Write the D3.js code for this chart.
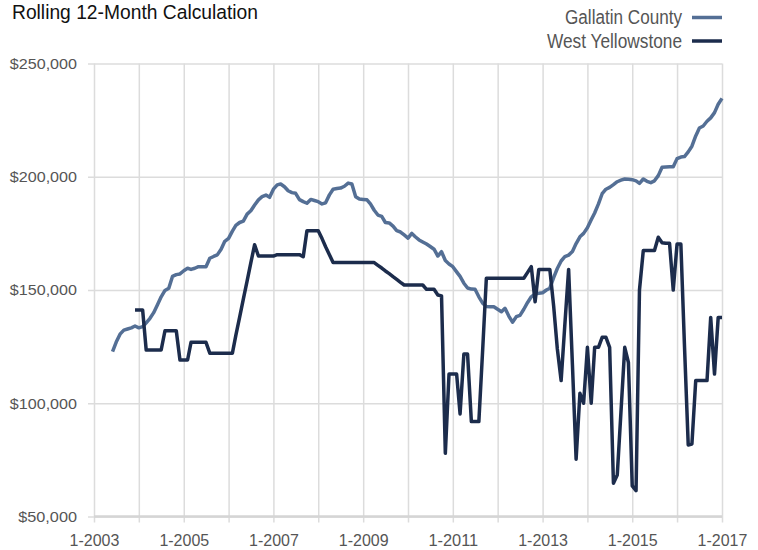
<!DOCTYPE html>
<html>
<head>
<meta charset="utf-8">
<script src="https://cdn.jsdelivr.net/npm/d3@7"></script>
<style>
  body { margin: 0; background: #fff; }
  text { font-family: "Liberation Sans", Arial, sans-serif; }
</style>
</head>
<body>
<div id="chart"></div>
<script>
// series start months (monthly values, in thousands of dollars)
var gallatinStart = new Date(2003, 5, 1);
var westStart = new Date(2003, 11, 1);

var gallatin = [
  122.8, 127, 130.5, 132.3, 132.8, 133.3, 134.1, 133.3, 133.8, 135.5, 137.5, 140, 143.5, 147, 149.8, 150.8,
  156, 156.8, 157.1, 158.5, 159.6, 159.1, 159.6, 160.3, 160.3, 160.3, 164, 164.8, 165.5, 168, 171.5, 172.8,
  176, 178.5, 179.8, 180.4, 183.5, 185, 187.5, 189.8, 191.2, 191.9, 190.9, 194.5, 196.4, 196.8, 195.6, 193.8,
  193, 192.7, 189.9, 189, 188.3, 190, 189.5, 189, 188, 188.5, 192, 194.5, 194.8, 195, 195.8, 197.2,
  196.8, 191.2, 190.2, 190, 189.8, 188, 185.2, 183.1, 182.5, 179.8, 179.6, 178.2, 176.2, 175.6, 174.3, 172.9,
  175, 173.5, 172.1, 171.2, 170.3, 169.2, 168, 165, 166.9, 163, 161.5, 160.3, 158, 156, 153, 150.9,
  150.4, 150.3, 147, 144.2, 142.7, 142.6, 142.6, 141.5, 140.4, 141.9, 138.5, 135.8, 138.2, 138.8, 141.5, 144.5,
  147, 148.3, 148.6, 148.8, 150, 150.8, 155.5, 159.5, 162.8, 164.7, 165.4, 167, 170.5, 173.5, 175, 177.5,
  181, 184, 188, 192.5, 194.5, 195.3, 196.5, 197.8, 198.5, 199, 198.9, 198.7, 198.2, 197.1, 199, 198,
  197.4, 198.2, 200.5, 204.2, 204.3, 204.4, 204.4, 208, 208.7, 208.9, 211, 213.5, 218, 221.5, 222.4, 224.5,
  226, 228.3, 232, 234.6
];

var westYellowstone = [
  141.2, 141.2, 141.2, 123.5, 123.5, 123.5, 123.5, 123.5, 132, 132, 132, 132, 119.1, 119.1, 119.1, 126.9,
  126.9, 126.9, 126.9, 126.9, 122.1, 122.1, 122.1, 122.1, 122.1, 122.1, 122.1, 130, 138, 146, 154, 162,
  170, 165, 165, 165, 165, 165, 165.6, 165.6, 165.6, 165.6, 165.6, 165.6, 165.6, 164.7, 176.2, 176.2, 176.2, 176.2,
  172.7, 169.1, 165.6, 162.1, 162.1, 162.1, 162.1, 162.1, 162.1, 162.1, 162.1, 162.1, 162.1, 162.1, 162.1, 160.9,
  159.7, 158.4, 157.2, 155.9, 154.7, 153.4, 152.2, 152.2, 152.2, 152.2, 152.2, 152.2, 150.3, 150.3, 150.3, 147.8,
  147.4, 77.9, 112.9, 112.9, 112.9, 95.3, 121.7, 121.7, 91.9, 91.9, 91.9, 123.5, 155.2, 155.2, 155.2, 155.2,
  155.2, 155.2, 155.2, 155.2, 155.2, 155.2, 155.2, 157.8, 160.3, 144.8, 159.1, 159.1, 159.1, 159.1, 143, 124,
  110, 134.5, 159.1, 117, 75.3, 104.4, 100, 124.7, 100, 124.7, 124.7, 129.1, 129.1, 124.7, 64.7, 68.3,
  96, 124.7, 118, 63.5, 61.4, 150, 167.4, 167.4, 167.4, 167.4, 173.3, 170.9, 170.6, 170.6, 150, 170.3,
  170.3, 126, 81.6, 82, 110, 110, 110, 110, 137.9, 112.9, 137.9, 137.9
];

var seriesNames = ["Gallatin County", "West Yellowstone"];
var seriesColors = ["#546f95", "#1c2c4c"];

var yTicks = [50000, 100000, 150000, 200000, 250000];
var xLabelYears = [2003, 2005, 2007, 2009, 2011, 2013, 2015, 2017];

var svgWidth = 758;
var svgHeight = 550;

var margin = { top: 63.5, right: 36, bottom: 33.5, left: 94 };
var width = svgWidth - margin.left - margin.right;
var height = svgHeight - margin.top - margin.bottom;

var svg = d3.select("#chart")
  .append("svg")
  .attr("width", svgWidth)
  .attr("height", svgHeight);

var chartGroup = svg.append("g")
  .attr("transform", `translate(${margin.left}, ${margin.top})`);

// turn the monthly arrays into dated points
function toPoints(start, values) {
  return values.map((v, i) => ({ date: d3.timeMonth.offset(start, i), value: v * 1000 }));
}
var lines = [toPoints(gallatinStart, gallatin), toPoints(westStart, westYellowstone)];

var xScale = d3.scaleTime()
  .domain([new Date(2003, 0, 1), new Date(2017, 0, 1)])
  .range([0, width]);

var yScale = d3.scaleLinear()
  .domain([50000, 250000])
  .range([height, 0]);

// the reference uses a condensed face, so squeeze text to its measured width
function squeeze(sel, perChar) {
  sel.attr("textLength", function() { return this.textContent.length * perChar; })
    .attr("lengthAdjust", "spacingAndGlyphs");
}

// vertical gridlines + ticks every year
var yearTicks = d3.timeYear.range(new Date(2003, 0, 1), new Date(2017, 0, 2));
var bottomAxis = d3.axisBottom(xScale)
  .tickValues(yearTicks)
  .tickFormat(d => xLabelYears.indexOf(d.getFullYear()) >= 0 ? "1-" + d.getFullYear() : "");

var xAxisG = chartGroup.append("g")
  .attr("transform", `translate(0, ${height})`)
  .call(bottomAxis);
xAxisG.select(".domain").remove();
xAxisG.selectAll("line")
  .attr("stroke", "#dcdcdc")
  .attr("stroke-width", 1.5)
  .attr("y2", -height)
  .attr("y1", 6);
xAxisG.selectAll("text")
  .attr("y", 18)
  .attr("fill", "#555")
  .style("font-size", "16px")
  .call(squeeze, 8.3);

// horizontal gridlines
var leftAxis = d3.axisLeft(yScale)
  .tickValues(yTicks)
  .tickFormat(d => "$" + d3.format(",")(d));

var yAxisG = chartGroup.append("g")
  .call(leftAxis);
yAxisG.select(".domain").remove();
yAxisG.selectAll("line")
  .attr("x1", -6)
  .attr("x2", width)
  .attr("stroke", "#dcdcdc")
  .attr("stroke-width", 1.5);
yAxisG.selectAll("text")
  .attr("x", -17)
  .attr("fill", "#555")
  .style("font-size", "15px")
  .call(squeeze, 8.4);

// bottom axis line a bit heavier
chartGroup.append("line")
  .attr("x1", 0)
  .attr("x2", width)
  .attr("y1", height)
  .attr("y2", height)
  .attr("stroke", "#d5d5d5")
  .attr("stroke-width", 2.5);

// draw the two lines
var lineGen = d3.line()
  .x(d => xScale(d.date))
  .y(d => yScale(d.value));

chartGroup.selectAll(".series")
  .data(lines)
  .enter()
  .append("path")
  .attr("class", "series")
  .attr("d", lineGen)
  .attr("fill", "none")
  .attr("stroke", (d, i) => seriesColors[i])
  .attr("stroke-width", 3.5)
  .attr("stroke-linejoin", "round");

// title
svg.append("text")
  .attr("x", 12)
  .attr("y", 18.5)
  .attr("fill", "#111")
  .style("font-size", "20.5px")
  .attr("textLength", 246)
  .attr("lengthAdjust", "spacingAndGlyphs")
  .text("Rolling 12-Month Calculation");

// legend, top right
var legendWidths = [117, 135];
var legend = svg.selectAll(".legend")
  .data(seriesNames)
  .enter()
  .append("g")
  .attr("class", "legend")
  .attr("transform", (d, i) => `translate(0, ${i * 23.5})`);

legend.append("text")
  .attr("x", 682)
  .attr("y", 24)
  .attr("text-anchor", "end")
  .attr("fill", "#555")
  .style("font-size", "20px")
  .attr("textLength", (d, i) => legendWidths[i])
  .attr("lengthAdjust", "spacingAndGlyphs")
  .text(d => d);

legend.append("line")
  .attr("x1", 692)
  .attr("x2", 722)
  .attr("y1", 17.5)
  .attr("y2", 17.5)
  .attr("stroke", (d, i) => seriesColors[i])
  .attr("stroke-width", 3.5);
</script>
</body>
</html>
